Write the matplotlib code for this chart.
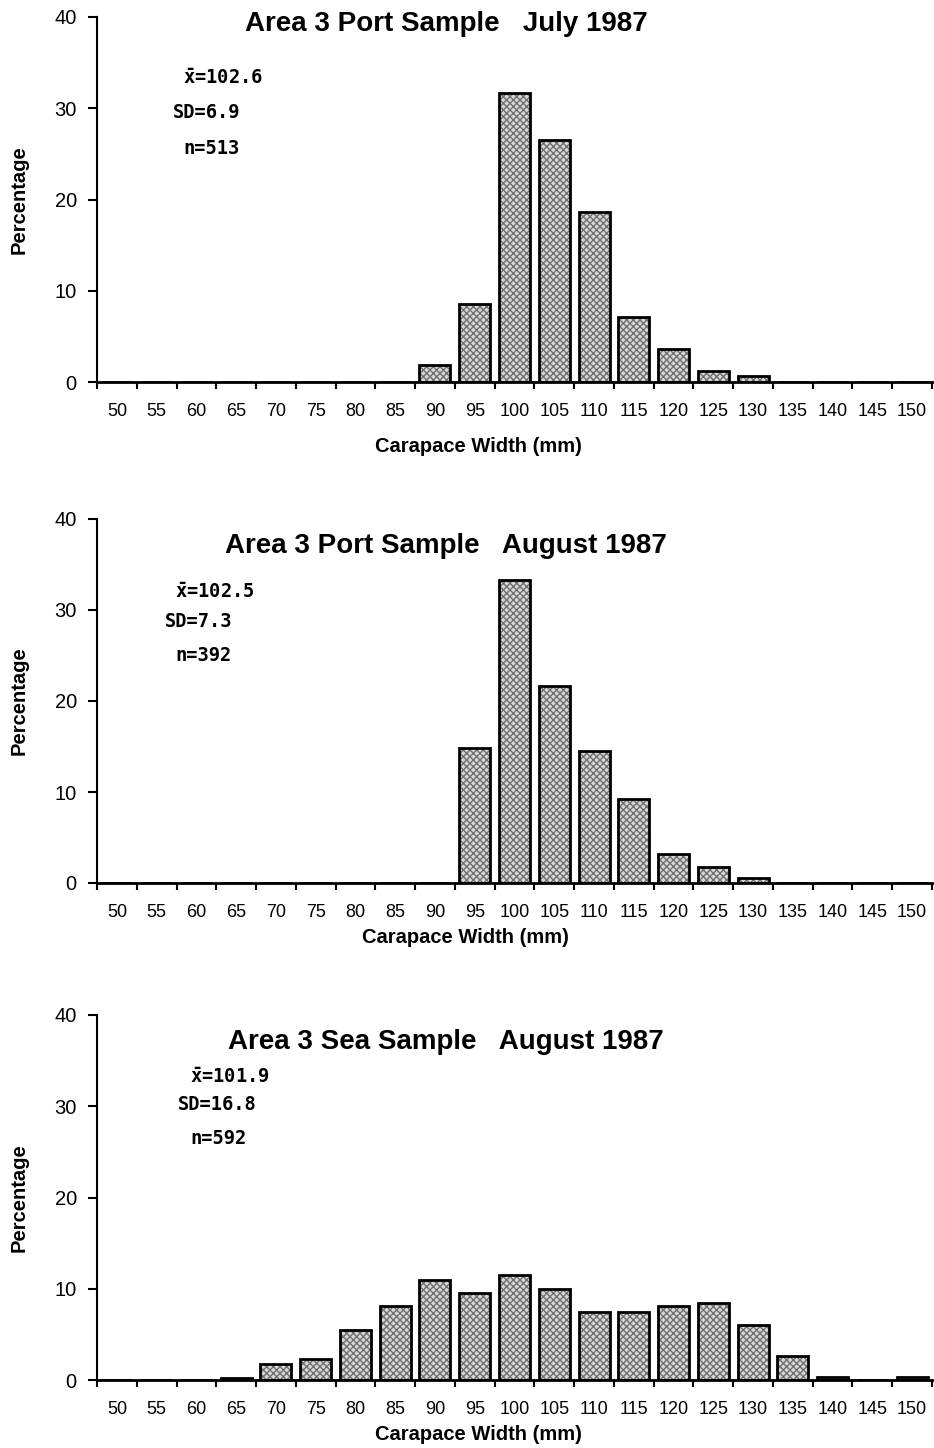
import matplotlib
matplotlib.use("Agg")
import matplotlib.pyplot as plt
import numpy as np

# size classes (mm) and percentage frequencies
widths = list(range(50, 155, 5))

july_port = [0, 0, 0, 0, 0, 0, 0, 0, 1.9, 8.5, 31.7, 26.5, 18.6, 7.1, 3.6, 1.2, 0.65, 0, 0, 0, 0]
aug_port = [0, 0, 0, 0, 0, 0, 0, 0, 0, 14.8, 33.3, 21.6, 14.5, 9.2, 3.2, 1.8, 0.6, 0, 0, 0, 0]
aug_sea = [0, 0, 0, 0.2, 1.7, 2.3, 5.5, 8.1, 11.0, 9.5, 11.5, 10.0, 7.4, 7.4, 8.1, 8.4, 6.0, 2.6, 0.3, 0, 0.3]

titles = ["Area 3 Port Sample   July 1987",
          "Area 3 Port Sample   August 1987",
          "Area 3 Sea Sample   August 1987"]
means = ["102.6", "102.5", "101.9"]
sds = ["6.9", "7.3", "16.8"]
ns = ["513", "392", "592"]

plt.rcParams["mathtext.fontset"] = "custom"
plt.rcParams["mathtext.rm"] = "DejaVu Sans Mono:bold"

W, H = 934, 1448
# axes boxes in pixels: (top, bottom) ; left/right shared
left_px, right_px = 97, 932
boxes = [(17, 382), (519, 883), (1015, 1380)]
title_y = [24, 546, 1042]
stat_pos = [[(183, 78), (173, 113), (183, 149)],
            [(175, 592), (165, 622), (175, 656)],
            [(190, 1077), (178, 1104), (190, 1138)]]
xlabel_off = [55, 45, 45]
xlabel_cx = [478, 465, 478]

fig = plt.figure(figsize=(W / 100, H / 100), dpi=100)

series = [july_port, aug_port, aug_sea]
x = np.arange(len(widths))

for i, vals in enumerate(series):
    top, bot = boxes[i]
    ax = fig.add_axes([left_px / W, 1 - bot / H, (right_px - left_px) / W, (bot - top) / H])
    # stippled fill, then black outline
    ax.bar(x, vals, width=0.78, color="#d8d8d8", edgecolor="#707070", linewidth=0,
           hatch="xxxxx", zorder=2)
    ax.bar(x, vals, width=0.78, fill=False, edgecolor="black", linewidth=2.0, zorder=3)

    ax.set_xlim(-0.5, len(widths) - 0.5)
    ax.set_ylim(0, 40)
    ax.spines["top"].set_visible(False)
    ax.spines["right"].set_visible(False)
    ax.spines["left"].set_linewidth(1.5)
    ax.spines["bottom"].set_linewidth(2.0)
    ax.spines["bottom"].set_zorder(4)

    ax.set_yticks([0, 10, 20, 30, 40])
    ax.set_yticklabels(["0", "10", "20", "30", "40"], fontsize=14.5, family="Liberation Sans")
    ax.tick_params(axis="y", length=6.5, width=1.5, pad=8)
    ax.set_xticks(x)
    ax.set_xticklabels([str(w) for w in widths], fontsize=13, family="Liberation Sans")
    ax.set_xticks(np.arange(-0.5, len(widths)), minor=True)
    ax.tick_params(axis="x", which="major", length=0, pad=15)
    ax.tick_params(axis="x", which="minor", length=5, width=1.5)

    ax.set_ylabel("Percentage", fontsize=14.5, fontweight="bold", family="Liberation Sans")
    ax.yaxis.set_label_coords((29 - left_px) / (right_px - left_px), 0.5)
    ax.set_xlabel("Carapace Width (mm)", fontsize=14.5, fontweight="bold", family="Liberation Sans")
    ax.xaxis.set_label_coords((xlabel_cx[i] - left_px) / (right_px - left_px),
                              -xlabel_off[i] / (bot - top))

    fig.text(446 / W, 1 - title_y[i] / H, titles[i], ha="center", va="center",
             fontsize=20, fontweight="bold", family="Liberation Sans")

    stats = [r"$\bar{\mathrm{x}}$=" + means[i], "SD=" + sds[i], "n=" + ns[i]]
    for (px, py), s in zip(stat_pos[i], stats):
        fig.text(px / W, 1 - py / H, s, ha="left", va="center", fontsize=13.5,
                 fontweight="bold", family="DejaVu Sans Mono")

fig.savefig("out.png", dpi=100)
